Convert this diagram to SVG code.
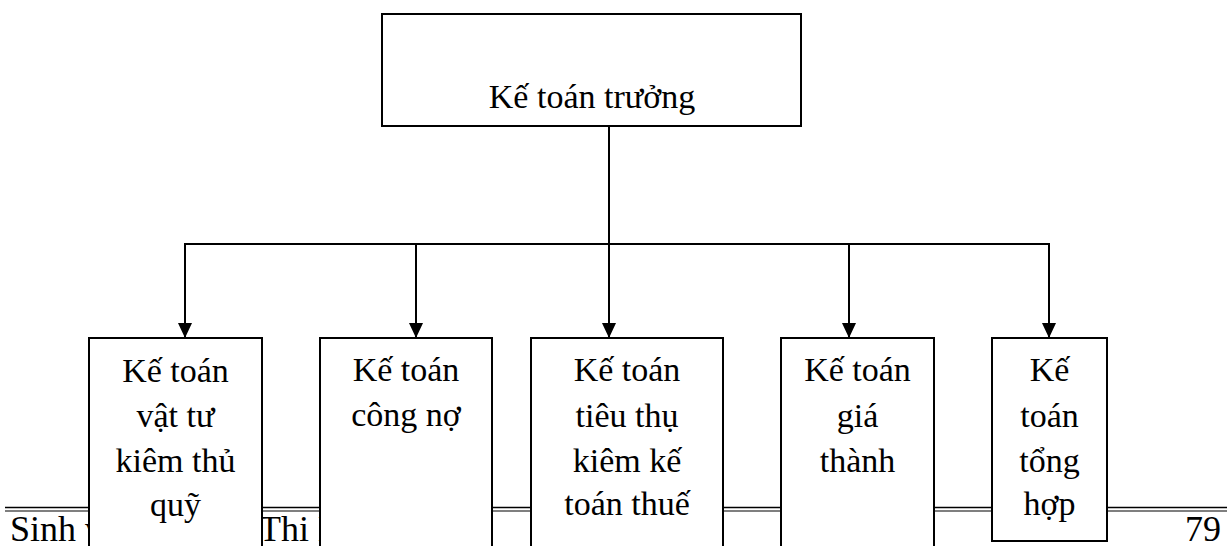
<svg xmlns="http://www.w3.org/2000/svg" width="1227" height="546" viewBox="0 0 1227 546">
<style>
.box{fill:#fff;stroke:#000;stroke-width:2}
.t{font-family:"Liberation Serif","Times New Roman",serif;font-size:34px;fill:#000;text-anchor:middle}
.f{font-family:"Liberation Serif","Times New Roman",serif;font-size:36px;fill:#000}
.c{stroke:#000;stroke-width:2;fill:none}
</style>
<defs>
<marker id="ah" markerUnits="userSpaceOnUse" markerWidth="16" markerHeight="14" refX="15" refY="7" orient="auto">
<path d="M0,0 L15,7 L0,14 Z" fill="#000"/>
</marker>
</defs>
<rect width="1227" height="546" fill="#fff"/>
<g id="footer">
<line x1="5" y1="507.5" x2="1227" y2="507.5" stroke="#000" stroke-width="1.6"/>
<line x1="5" y1="511" x2="1227" y2="511" stroke="#000" stroke-width="1.1"/>
<text class="f" x="10" y="541">Sinh v</text>
<text class="f" x="259" y="541">Thi L</text>
<text class="f" x="1185" y="541">79</text>
</g>
<g id="connectors">
<line class="c" x1="609" y1="126" x2="609" y2="244"/>
<line class="c" x1="184" y1="244" x2="1050" y2="244"/>
<line class="c" x1="185" y1="243" x2="185" y2="338" marker-end="url(#ah)"/>
<line class="c" x1="416" y1="243" x2="416" y2="338" marker-end="url(#ah)"/>
<line class="c" x1="609" y1="243" x2="609" y2="338" marker-end="url(#ah)"/>
<line class="c" x1="849" y1="243" x2="849" y2="338" marker-end="url(#ah)"/>
<line class="c" x1="1049" y1="243" x2="1049" y2="338" marker-end="url(#ah)"/>
</g>
<g id="n0">
<rect class="box" x="382" y="14" width="419" height="112"/>
<text class="t" x="592" y="108">Kế toán trưởng</text>
</g>
<g id="n1">
<rect class="box" x="89" y="338" width="173" height="220"/>
<text class="t" x="175.5" y="382">Kế toán</text>
<text class="t" x="175.5" y="427">vật tư</text>
<text class="t" x="175.5" y="472">kiêm thủ</text>
<text class="t" x="175.5" y="516">quỹ</text>
</g>
<g id="n2">
<rect class="box" x="320" y="338" width="172" height="220"/>
<text class="t" x="406" y="381">Kế toán</text>
<text class="t" x="406" y="426">công nợ</text>
</g>
<g id="n3">
<rect class="box" x="531" y="338" width="192" height="220"/>
<text class="t" x="627" y="381">Kế toán</text>
<text class="t" x="627" y="427">tiêu thụ</text>
<text class="t" x="627" y="472">kiêm kế</text>
<text class="t" x="627" y="515">toán thuế</text>
</g>
<g id="n4">
<rect class="box" x="781" y="338" width="153" height="220"/>
<text class="t" x="857.5" y="381">Kế toán</text>
<text class="t" x="857.5" y="427">giá</text>
<text class="t" x="857.5" y="472">thành</text>
</g>
<g id="n5">
<rect class="box" x="992" y="338" width="115" height="203"/>
<text class="t" x="1049.5" y="381">Kế</text>
<text class="t" x="1049.5" y="427">toán</text>
<text class="t" x="1049.5" y="472">tổng</text>
<text class="t" x="1049.5" y="515">hợp</text>
</g>
</svg>
